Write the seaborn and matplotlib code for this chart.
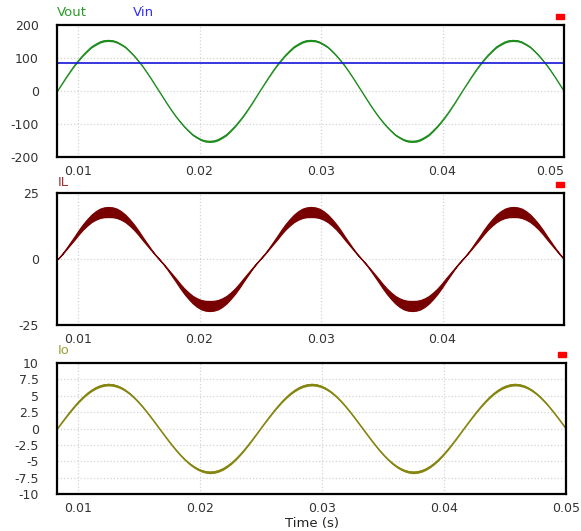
import matplotlib
matplotlib.use("Agg")
import numpy as np
import seaborn as sns
import matplotlib.pyplot as plt
from matplotlib.patches import Rectangle

# time samples (s)
time = [0.008333, 0.008681, 0.009028, 0.009375, 0.009722, 0.010069, 0.010417, 0.010764, 0.011111,
        0.011458, 0.011806, 0.012153, 0.012500, 0.012847, 0.013194, 0.013542, 0.013889, 0.014236,
        0.014583, 0.014931, 0.015278, 0.015625, 0.015972, 0.016319, 0.016667,
        0.017014, 0.017361, 0.017708, 0.018056, 0.018403, 0.018750, 0.019097, 0.019444, 0.019792,
        0.020139, 0.020486, 0.020833, 0.021181, 0.021528, 0.021875, 0.022222, 0.022569, 0.022917,
        0.023264, 0.023611, 0.023958, 0.024306, 0.024653, 0.025000,
        0.025347, 0.025694, 0.026042, 0.026389, 0.026736, 0.027083, 0.027431, 0.027778, 0.028125,
        0.028472, 0.028819, 0.029167, 0.029514, 0.029861, 0.030208, 0.030556, 0.030903, 0.031250,
        0.031597, 0.031944, 0.032292, 0.032639, 0.032986, 0.033333,
        0.033681, 0.034028, 0.034375, 0.034722, 0.035069, 0.035417, 0.035764, 0.036111, 0.036458,
        0.036806, 0.037153, 0.037500, 0.037847, 0.038194, 0.038542, 0.038889, 0.039236, 0.039583,
        0.039931, 0.040278, 0.040625, 0.040972, 0.041319, 0.041667,
        0.042014, 0.042361, 0.042708, 0.043056, 0.043403, 0.043750, 0.044097, 0.044444, 0.044792,
        0.045139, 0.045486, 0.045833, 0.046181, 0.046528, 0.046875, 0.047222, 0.047569, 0.047917,
        0.048264, 0.048611, 0.048958, 0.049306, 0.049653, 0.050000]

vout = [0, 20, 40, 59, 77, 93, 108, 121, 133, 141, 148, 152, 153, 152, 148, 141, 133, 121, 108, 93, 77, 59, 40, 20, 0,
        -20, -40, -59, -77, -93, -108, -121, -133, -141, -148, -152, -153, -152, -148, -141, -133, -121, -108, -93, -77, -59, -40, -20, 0,
        20, 40, 59, 77, 93, 108, 121, 133, 141, 148, 152, 153, 152, 148, 141, 133, 121, 108, 93, 77, 59, 40, 20, 0,
        -20, -40, -59, -77, -93, -108, -121, -133, -141, -148, -152, -153, -152, -148, -141, -133, -121, -108, -93, -77, -59, -40, -20, 0,
        20, 40, 59, 77, 93, 108, 121, 133, 141, 148, 152, 153, 152, 148, 141, 133, 121, 108, 93, 77, 59, 40, 20, 0]

vin_time = [0.00827, 0.0500]
vin = [86, 86]

il = [0, 1.8, 3.8, 5.9, 8.0, 10.2, 12.2, 13.9, 15.4, 16.5, 17.3, 17.7, 17.8, 17.7, 17.3, 16.5, 15.4, 13.9, 12.2, 10.2, 8.0, 5.9, 3.8, 1.8, 0,
      -1.8, -3.8, -5.9, -8.0, -10.2, -12.2, -13.9, -15.4, -16.5, -17.3, -17.7, -17.8, -17.7, -17.3, -16.5, -15.4, -13.9, -12.2, -10.2, -8.0, -5.9, -3.8, -1.8, 0,
      1.8, 3.8, 5.9, 8.0, 10.2, 12.2, 13.9, 15.4, 16.5, 17.3, 17.7, 17.8, 17.7, 17.3, 16.5, 15.4, 13.9, 12.2, 10.2, 8.0, 5.9, 3.8, 1.8, 0,
      -1.8, -3.8, -5.9, -8.0, -10.2, -12.2, -13.9, -15.4, -16.5, -17.3, -17.7, -17.8, -17.7, -17.3, -16.5, -15.4, -13.9, -12.2, -10.2, -8.0, -5.9, -3.8, -1.8, 0,
      1.8, 3.8, 5.9, 8.0, 10.2, 12.2, 13.9, 15.4, 16.5, 17.3, 17.7, 17.8, 17.7, 17.3, 16.5, 15.4, 13.9, 12.2, 10.2, 8.0, 5.9, 3.8, 1.8, 0]

# half width of the switching ripple band on IL
il_ripple = [0, 0.08, 0.2, 0.4, 0.6, 0.8, 1.0, 1.2, 1.4, 1.6, 1.75, 1.85, 1.9, 1.85, 1.75, 1.6, 1.4, 1.2, 1.0, 0.8, 0.6, 0.4, 0.2, 0.08, 0,
             0.08, 0.2, 0.4, 0.6, 0.8, 1.0, 1.2, 1.4, 1.6, 1.75, 1.85, 1.9, 1.85, 1.75, 1.6, 1.4, 1.2, 1.0, 0.8, 0.6, 0.4, 0.2, 0.08, 0,
             0.08, 0.2, 0.4, 0.6, 0.8, 1.0, 1.2, 1.4, 1.6, 1.75, 1.85, 1.9, 1.85, 1.75, 1.6, 1.4, 1.2, 1.0, 0.8, 0.6, 0.4, 0.2, 0.08, 0,
             0.08, 0.2, 0.4, 0.6, 0.8, 1.0, 1.2, 1.4, 1.6, 1.75, 1.85, 1.9, 1.85, 1.75, 1.6, 1.4, 1.2, 1.0, 0.8, 0.6, 0.4, 0.2, 0.08, 0,
             0.08, 0.2, 0.4, 0.6, 0.8, 1.0, 1.2, 1.4, 1.6, 1.75, 1.85, 1.9, 1.85, 1.75, 1.6, 1.4, 1.2, 1.0, 0.8, 0.6, 0.4, 0.2, 0.08, 0]

io = [0, 0.87, 1.73, 2.56, 3.35, 4.08, 4.74, 5.32, 5.8, 6.19, 6.47, 6.64, 6.7, 6.64, 6.47, 6.19, 5.8, 5.32, 4.74, 4.08, 3.35, 2.56, 1.73, 0.87, 0,
      -0.87, -1.73, -2.56, -3.35, -4.08, -4.74, -5.32, -5.8, -6.19, -6.47, -6.64, -6.7, -6.64, -6.47, -6.19, -5.8, -5.32, -4.74, -4.08, -3.35, -2.56, -1.73, -0.87, 0,
      0.87, 1.73, 2.56, 3.35, 4.08, 4.74, 5.32, 5.8, 6.19, 6.47, 6.64, 6.7, 6.64, 6.47, 6.19, 5.8, 5.32, 4.74, 4.08, 3.35, 2.56, 1.73, 0.87, 0,
      -0.87, -1.73, -2.56, -3.35, -4.08, -4.74, -5.32, -5.8, -6.19, -6.47, -6.64, -6.7, -6.64, -6.47, -6.19, -5.8, -5.32, -4.74, -4.08, -3.35, -2.56, -1.73, -0.87, 0,
      0.87, 1.73, 2.56, 3.35, 4.08, 4.74, 5.32, 5.8, 6.19, 6.47, 6.64, 6.7, 6.64, 6.47, 6.19, 5.8, 5.32, 4.74, 4.08, 3.35, 2.56, 1.73, 0.87, 0]

# axis ticks
xticks_all = [0.01, 0.02, 0.03, 0.04, 0.05]
yticks_v = [200, 100, 0, -100, -200]
yticks_il = [25, 0, -25]
yticks_io = [10, 7.5, 5, 2.5, 0, -2.5, -5, -7.5, -10]
yticklabels_io = ["10", "7.5", "5", "2.5", "0", "-2.5", "-5", "-7.5", "-10"]

sns.set_style("white")
plt.rcParams["font.family"] = ["DejaVu Sans"]

W, H = 581, 531
fig = plt.figure(figsize=(W / 100, H / 100), dpi=100)


def make_axes(top, bottom, right=564):
    return fig.add_axes([57 / W, 1 - bottom / H, (right - 57) / W, (bottom - top) / H])


def style(ax, ylim, yticks, xticks, ylabels=None, ygrid=None):
    ax.set_xlim(0.00827, 0.0500)
    ax.set_ylim(*ylim)
    ax.set_xticks(xticks)
    ax.set_xticklabels([f"{x:.2f}" for x in xticks])
    ax.set_yticks(yticks)
    ax.set_yticklabels(ylabels if ylabels else [str(y) for y in yticks])
    ax.tick_params(axis="x", length=0, pad=5.5, labelsize=9, labelcolor="#333333")
    ax.tick_params(axis="y", length=0, pad=13, labelsize=9, labelcolor="#333333")
    for x in xticks:
        ax.axvline(x, color="#d4d4d4", ls=":", lw=0.9, zorder=0)
    for y in (ygrid if ygrid is not None else yticks):
        ax.axhline(y, color="#d4d4d4", ls=":", lw=0.9, zorder=0)
    for s in ax.spines.values():
        s.set_color("black")
        s.set_linewidth(1.6)
    ax.set_xlabel("")
    ax.set_ylabel("")


# panel 1: Vout / Vin
ax1 = make_axes(25, 157)
v = np.array(vout, dtype=float)
ax1.fill_between(time, v * 0.98, v * 1.02, color="#1e8c1e", lw=0)
sns.lineplot(x=time, y=vout, ax=ax1, color="#1e8c1e", lw=1.0)
sns.lineplot(x=vin_time, y=vin, ax=ax1, color="#1515d8", lw=1.2)
style(ax1, (-200, 200), yticks_v, xticks_all, ygrid=[100, 0, -100])
ax1.get_xticklabels()[-1].set_ha("right")

# panel 2: IL
ax2 = make_axes(193, 325)
c = np.array(il)
r = np.array(il_ripple)
ax2.fill_between(time, c - r, c + r, color="#780000", lw=0.9, edgecolor="#780000")
style(ax2, (-25, 25), yticks_il, xticks_all[:4], ygrid=[0])

# panel 3: Io
ax3 = make_axes(363, 494, right=566)
o = np.array(io)
ax3.fill_between(time, o * 0.97, o * 1.03, color="#858510", lw=0)
sns.lineplot(x=time, y=io, ax=ax3, color="#858510", lw=1.2)
style(ax3, (-10, 10), yticks_io, xticks_all, ylabels=yticklabels_io, ygrid=yticks_io[1:-1])

# signal names above each panel
fig.text(57 / W, 1 - 12 / H, "Vout", color="#2a9a2a", fontsize=9.5, va="center")
fig.text(133 / W, 1 - 12 / H, "Vin", color="#3030ee", fontsize=9.5, va="center")
fig.text(58 / W, 1 - 182 / H, "IL", color="#a03434", fontsize=9.5, va="center")
fig.text(58 / W, 1 - 351 / H, "Io", color="#a0a038", fontsize=9.5, va="center")

# small red markers at top right
for x0, y0 in [(556, 18.5), (556, 187), (558, 357)]:
    fig.add_artist(Rectangle((x0 / W, 1 - y0 / H), 8 / W, 5 / H,
                             transform=fig.transFigure, color="#ff0000"))

fig.text(312 / W, 1 - 523 / H, "Time (s)", color="#222222", fontsize=9.5,
         ha="center", va="center")

fig.savefig("out.png", dpi=100)
